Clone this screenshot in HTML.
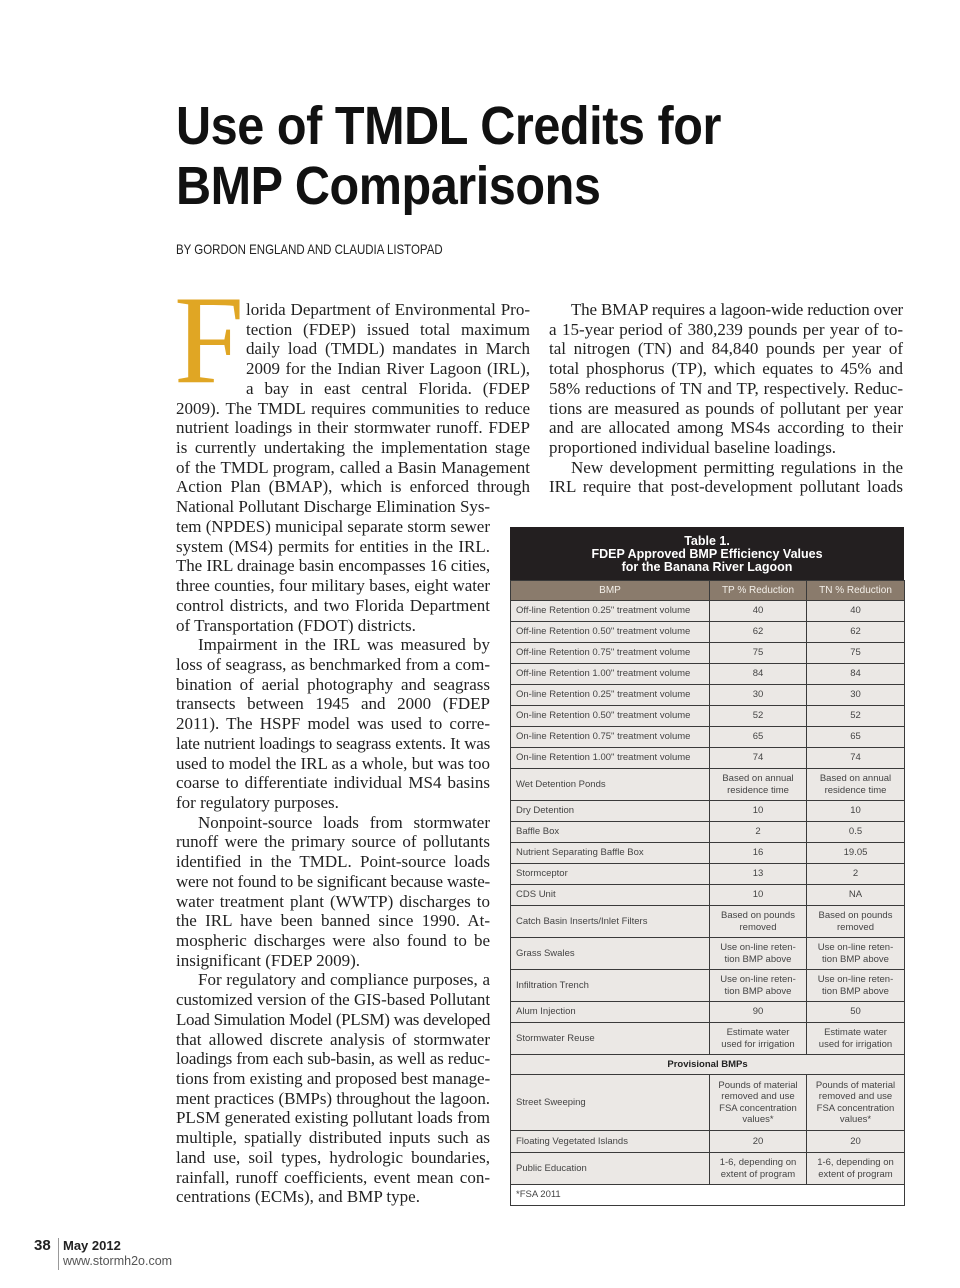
<!DOCTYPE html>
<html><head><meta charset="utf-8">
<style>
body{margin:0;background:#fff;}
#page{position:relative;width:960px;height:1288px;overflow:hidden;background:#fff;font-family:"Liberation Serif",serif;color:#222;}
.t{position:absolute;left:176px;font-family:"Liberation Sans",sans-serif;font-weight:bold;font-size:54px;color:#111;transform-origin:0 0;white-space:nowrap;letter-spacing:-0.5px;}
.col{position:absolute;font-size:17px;line-height:19.73px;}
.col div{text-align:justify;text-align-last:justify;white-space:nowrap;height:19.73px;box-sizing:border-box;overflow:visible;}
.col div.l{text-align-last:left;}
.col div.i{padding-left:22px;}
#tbl{position:absolute;left:510px;top:527px;width:394px;font-family:"Liberation Sans",sans-serif;}
#tbl .ttl{background:#231f20;color:#fff;font-weight:bold;font-size:12.5px;line-height:13px;text-align:center;height:53px;box-sizing:border-box;padding-top:8px;}
table{border-collapse:collapse;width:394px;table-layout:fixed;}
td{border:1.5px solid #3a3a3a;background:#ebe8e5;font-size:9.5px;color:#444;line-height:11.5px;padding:0 5px;}
td.c{text-align:center;}
tr.h td{background:#8a7b6c;color:#f4f0ea;text-align:center;font-size:10px;}
td.p{text-align:center;font-weight:bold;color:#222;}
td.f{background:#fff;}
</style></head><body>
<div id="page">
<div class="t" style="top:95px;transform:scaleX(0.9)">Use of TMDL Credits for</div>
<div class="t" style="top:155px;transform:scaleX(0.9)">BMP Comparisons</div>
<div style="position:absolute;left:176px;top:241px;font-family:'Liberation Sans',sans-serif;font-size:14px;color:#222;transform:scaleX(0.82);transform-origin:0 0;white-space:nowrap;">BY GORDON ENGLAND AND CLAUDIA LISTOPAD</div>
<div style="position:absolute;left:174px;top:278px;font-size:126px;line-height:126px;color:#e0a624;font-family:'Liberation Serif',serif;">F</div>

<div class="col" style="left:176px;top:300px;width:354px;">
<div style="margin-left:70px;width:284px">lorida Department of Environmental Pro-</div>
<div style="margin-left:70px;width:284px">tection (FDEP) issued total maximum</div>
<div style="margin-left:70px;width:284px">daily load (TMDL) mandates in March</div>
<div style="margin-left:70px;width:284px">2009 for the Indian River Lagoon (IRL),</div>
<div style="margin-left:70px;width:284px">a bay in east central Florida. (FDEP</div>
<div style="width:354px">2009). The TMDL requires communities to reduce</div>
<div style="width:354px">nutrient loadings in their stormwater runoff. FDEP</div>
<div style="width:354px">is currently undertaking the implementation stage</div>
<div style="width:354px">of the TMDL program, called a Basin Management</div>
<div style="width:354px">Action Plan (BMAP), which is enforced through</div>
<div style="width:314px">National Pollutant Discharge Elimination Sys-</div>
<div style="width:314px">tem (NPDES) municipal separate storm sewer</div>
<div style="width:314px">system (MS4) permits for entities in the IRL.</div>
<div style="width:314px">The IRL drainage basin encompasses 16 cities,</div>
<div style="width:314px">three counties, four military bases, eight water</div>
<div style="width:314px">control districts, and two Florida Department</div>
<div class="l" style="width:314px">of Transportation (FDOT) districts.</div>
<div class="i" style="width:314px">Impairment in the IRL was measured by</div>
<div style="width:314px">loss of seagrass, as benchmarked from a com-</div>
<div style="width:314px">bination of aerial photography and seagrass</div>
<div style="width:314px">transects between 1945 and 2000 (FDEP</div>
<div style="width:314px">2011). The HSPF model was used to corre-</div>
<div style="width:314px">late nutrient loadings to seagrass extents. It was</div>
<div style="width:314px">used to model the IRL as a whole, but was too</div>
<div style="width:314px">coarse to differentiate individual MS4 basins</div>
<div class="l" style="width:314px">for regulatory purposes.</div>
<div class="i" style="width:314px">Nonpoint-source loads from stormwater</div>
<div style="width:314px">runoff were the primary source of pollutants</div>
<div style="width:314px">identified in the TMDL. Point-source loads</div>
<div style="width:314px">were not found to be significant because waste-</div>
<div style="width:314px">water treatment plant (WWTP) discharges to</div>
<div style="width:314px">the IRL have been banned since 1990. At-</div>
<div style="width:314px">mospheric discharges were also found to be</div>
<div class="l" style="width:314px">insignificant (FDEP 2009).</div>
<div class="i" style="width:314px">For regulatory and compliance purposes, a</div>
<div style="width:314px">customized version of the GIS-based Pollutant</div>
<div style="width:314px">Load Simulation Model (PLSM) was developed</div>
<div style="width:314px">that allowed discrete analysis of stormwater</div>
<div style="width:314px">loadings from each sub-basin, as well as reduc-</div>
<div style="width:314px">tions from existing and proposed best manage-</div>
<div style="width:314px">ment practices (BMPs) throughout the lagoon.</div>
<div style="width:314px">PLSM generated existing pollutant loads from</div>
<div style="width:314px">multiple, spatially distributed inputs such as</div>
<div style="width:314px">land use, soil types, hydrologic boundaries,</div>
<div style="width:314px">rainfall, runoff coefficients, event mean con-</div>
<div class="l" style="width:314px">centrations (ECMs), and BMP type.</div>
</div>

<div class="col" style="left:549px;top:300px;width:354px;">
<div class="i" style="width:354px">The BMAP requires a lagoon-wide reduction over</div>
<div style="width:354px">a 15-year period of 380,239 pounds per year of to-</div>
<div style="width:354px">tal nitrogen (TN) and 84,840 pounds per year of</div>
<div style="width:354px">total phosphorus (TP), which equates to 45% and</div>
<div style="width:354px">58% reductions of TN and TP, respectively. Reduc-</div>
<div style="width:354px">tions are measured as pounds of pollutant per year</div>
<div style="width:354px">and are allocated among MS4s according to their</div>
<div class="l" style="width:354px">proportioned individual baseline loadings.</div>
<div class="i" style="width:354px">New development permitting regulations in the</div>
<div style="width:354px">IRL require that post-development pollutant loads</div>
</div>

<div id="tbl">
<div class="ttl">Table 1.<br>FDEP Approved BMP Efficiency Values<br>for the Banana River Lagoon</div>
<table>
<colgroup><col style="width:199px"><col style="width:97px"><col style="width:98px"></colgroup>
<tr class="h" style="height:20px"><td>BMP</td><td>TP % Reduction</td><td>TN % Reduction</td></tr>
<tr style="height:21px"><td>Off-line Retention 0.25" treatment volume</td><td class="c">40</td><td class="c">40</td></tr>
<tr style="height:21px"><td>Off-line Retention 0.50" treatment volume</td><td class="c">62</td><td class="c">62</td></tr>
<tr style="height:21px"><td>Off-line Retention 0.75" treatment volume</td><td class="c">75</td><td class="c">75</td></tr>
<tr style="height:21px"><td>Off-line Retention 1.00" treatment volume</td><td class="c">84</td><td class="c">84</td></tr>
<tr style="height:21px"><td>On-line Retention 0.25" treatment volume</td><td class="c">30</td><td class="c">30</td></tr>
<tr style="height:21px"><td>On-line Retention 0.50" treatment volume</td><td class="c">52</td><td class="c">52</td></tr>
<tr style="height:21px"><td>On-line Retention 0.75" treatment volume</td><td class="c">65</td><td class="c">65</td></tr>
<tr style="height:21px"><td>On-line Retention 1.00" treatment volume</td><td class="c">74</td><td class="c">74</td></tr>
<tr style="height:32px"><td>Wet Detention Ponds</td><td class="c">Based on annual<br>residence time</td><td class="c">Based on annual<br>residence time</td></tr>
<tr style="height:21px"><td>Dry Detention</td><td class="c">10</td><td class="c">10</td></tr>
<tr style="height:21px"><td>Baffle Box</td><td class="c">2</td><td class="c">0.5</td></tr>
<tr style="height:21px"><td>Nutrient Separating Baffle Box</td><td class="c">16</td><td class="c">19.05</td></tr>
<tr style="height:21px"><td>Stormceptor</td><td class="c">13</td><td class="c">2</td></tr>
<tr style="height:21px"><td>CDS Unit</td><td class="c">10</td><td class="c">NA</td></tr>
<tr style="height:32px"><td>Catch Basin Inserts/Inlet Filters</td><td class="c">Based on pounds<br>removed</td><td class="c">Based on pounds<br>removed</td></tr>
<tr style="height:32px"><td>Grass Swales</td><td class="c">Use on-line reten-<br>tion BMP above</td><td class="c">Use on-line reten-<br>tion BMP above</td></tr>
<tr style="height:32px"><td>Infiltration Trench</td><td class="c">Use on-line reten-<br>tion BMP above</td><td class="c">Use on-line reten-<br>tion BMP above</td></tr>
<tr style="height:21px"><td>Alum Injection</td><td class="c">90</td><td class="c">50</td></tr>
<tr style="height:32px"><td>Stormwater Reuse</td><td class="c">Estimate water<br>used for irrigation</td><td class="c">Estimate water<br>used for irrigation</td></tr>
<tr style="height:20px"><td class="p" colspan="3">Provisional BMPs</td></tr>
<tr style="height:56px"><td>Street Sweeping</td><td class="c">Pounds of material<br>removed and use<br>FSA concentration<br>values*</td><td class="c">Pounds of material<br>removed and use<br>FSA concentration<br>values*</td></tr>
<tr style="height:22px"><td>Floating Vegetated Islands</td><td class="c">20</td><td class="c">20</td></tr>
<tr style="height:32px"><td>Public Education</td><td class="c">1-6, depending on<br>extent of program</td><td class="c">1-6, depending on<br>extent of program</td></tr>
<tr style="height:21px"><td class="f" colspan="3">*FSA 2011</td></tr>
</table>
</div>

<div style="position:absolute;left:34px;top:1237px;font-family:'Liberation Sans',sans-serif;font-weight:bold;font-size:15px;color:#222;">38</div>
<div style="position:absolute;left:58px;top:1238px;width:1px;height:32px;background:#999;"></div>
<div style="position:absolute;left:63px;top:1238px;font-family:'Liberation Sans',sans-serif;font-weight:bold;font-size:13px;color:#222;">May 2012</div>
<div style="position:absolute;left:63px;top:1254px;font-family:'Liberation Sans',sans-serif;font-size:12.5px;color:#555;">www.stormh2o.com</div>
</div>
<script>
// shrink letter spacing on lines whose natural width exceeds the column measure
document.querySelectorAll('.col div').forEach(function(d){
  var target=d.clientWidth;
  var s=document.createElement('span');
  s.style.whiteSpace='nowrap';
  s.textContent=d.textContent;
  d.textContent='';
  d.appendChild(s);
  var pad=parseFloat(getComputedStyle(d).paddingLeft)||0;
  var avail=target-pad;
  var w=s.getBoundingClientRect().width;
  d.textContent=s.textContent;
  if(w>avail){
    var n=d.textContent.length;
    d.style.letterSpacing=(-(w-avail+1)/n)+'px';
  }
});
</script>
</body></html>
